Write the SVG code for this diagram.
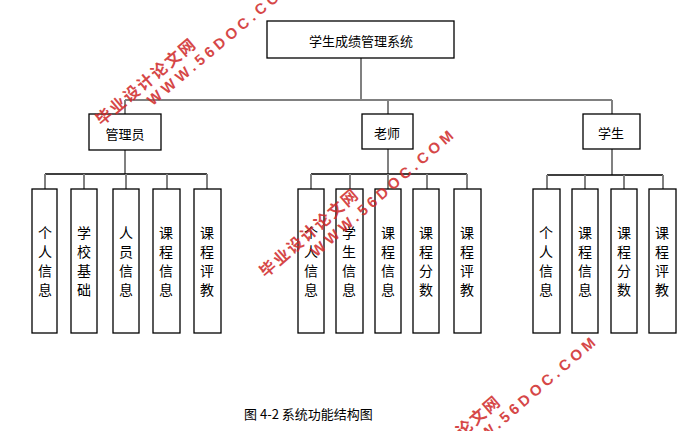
<svg xmlns="http://www.w3.org/2000/svg" width="699" height="431" viewBox="0 0 699 431">
<style>
.box{fill:#fff;stroke:#000;stroke-width:1.3}
.lbl{font-family:"Noto Sans CJK SC","Noto Sans",sans-serif;font-size:13px;fill:#000;text-anchor:middle;dominant-baseline:central}
.vl{font-family:"Noto Sans CJK SC","Noto Sans",sans-serif;font-size:14px;fill:#000;text-anchor:middle;dominant-baseline:central}
.gc{stroke:#808080;stroke-width:2;fill:none}
.bc{stroke:#000;stroke-width:1.5;fill:none}
.wm1{font-family:"Noto Sans CJK SC",sans-serif;font-size:16px;font-weight:bold;fill:#d02828;letter-spacing:2px;dominant-baseline:central}
.wm2{font-family:"Liberation Sans",Arial,sans-serif;font-size:15px;font-weight:bold;fill:#d02828;letter-spacing:4px;dominant-baseline:central}
</style>
<defs>
<g id="wm" opacity="0.85">
<text class="wm1" x="0" y="0">毕业设计论文网</text>
<text class="wm2" x="52" y="19">WWW.56DOC.COM</text>
</g>
</defs>
<rect width="699" height="431" fill="#fff"/>
<g id="connectors">
<path class="gc" d="M361,58 V100 M125,100 H612 M125,100 V114 M388,100 V114 M612,100 V114"/>
<path class="gc" d="M125,150 V174 M388,149 V174 M612,149 V175"/>
<path class="bc" d="M45,174 H207 M311,174 H467 M547,175 H663"/>
<path class="gc" d="M45,174 V189 M84,174 V189 M126,174 V189 M167,174 V189 M207,174 V189"/>
<path class="gc" d="M311,174 V189 M350,174 V189 M388,174 V189 M427,174 V189 M467,174 V189"/>
<path class="gc" d="M547,175 V189 M585,175 V189 M624,175 V189 M663,175 V189"/>
</g>
<g id="root"><rect class="box" x="267" y="21" width="187" height="37"/><text class="lbl" x="361" y="40">学生成绩管理系统</text></g>
<g id="admin"><rect class="box" x="89" y="114" width="72" height="36"/><text class="lbl" x="125" y="133">管理员</text></g>
<g id="teacher"><rect class="box" x="362" y="114" width="51" height="35"/><text class="lbl" x="387" y="132">老师</text></g>
<g id="student"><rect class="box" x="583" y="114" width="57" height="35"/><text class="lbl" x="611" y="132">学生</text></g>
<g id="a1"><rect class="box" x="32" y="189" width="25" height="144"/><text class="vl" x="45"><tspan x="45" y="232">个</tspan><tspan x="45" y="251">人</tspan><tspan x="45" y="270">信</tspan><tspan x="45" y="289">息</tspan></text></g>
<g id="a2"><rect class="box" x="71" y="189" width="26" height="144"/><text class="vl" x="84"><tspan x="84" y="232">学</tspan><tspan x="84" y="251">校</tspan><tspan x="84" y="270">基</tspan><tspan x="84" y="289">础</tspan></text></g>
<g id="a3"><rect class="box" x="113" y="189" width="26" height="144"/><text class="vl" x="126"><tspan x="126" y="232">人</tspan><tspan x="126" y="251">员</tspan><tspan x="126" y="270">信</tspan><tspan x="126" y="289">息</tspan></text></g>
<g id="a4"><rect class="box" x="153" y="189" width="27" height="144"/><text class="vl" x="166"><tspan x="166" y="232">课</tspan><tspan x="166" y="251">程</tspan><tspan x="166" y="270">信</tspan><tspan x="166" y="289">息</tspan></text></g>
<g id="a5"><rect class="box" x="194" y="189" width="27" height="144"/><text class="vl" x="207"><tspan x="207" y="232">课</tspan><tspan x="207" y="251">程</tspan><tspan x="207" y="270">评</tspan><tspan x="207" y="289">教</tspan></text></g>
<g id="t1"><rect class="box" x="298" y="189" width="26" height="144"/><text class="vl" x="311"><tspan x="311" y="232">个</tspan><tspan x="311" y="251">人</tspan><tspan x="311" y="270">信</tspan><tspan x="311" y="289">息</tspan></text></g>
<g id="t2"><rect class="box" x="336" y="189" width="27" height="144"/><text class="vl" x="349"><tspan x="349" y="232">学</tspan><tspan x="349" y="251">生</tspan><tspan x="349" y="270">信</tspan><tspan x="349" y="289">息</tspan></text></g>
<g id="t3"><rect class="box" x="375" y="189" width="26" height="144"/><text class="vl" x="388"><tspan x="388" y="232">课</tspan><tspan x="388" y="251">程</tspan><tspan x="388" y="270">信</tspan><tspan x="388" y="289">息</tspan></text></g>
<g id="t4"><rect class="box" x="413" y="189" width="26" height="144"/><text class="vl" x="426"><tspan x="426" y="232">课</tspan><tspan x="426" y="251">程</tspan><tspan x="426" y="270">分</tspan><tspan x="426" y="289">数</tspan></text></g>
<g id="t5"><rect class="box" x="454" y="189" width="27" height="144"/><text class="vl" x="467"><tspan x="467" y="232">课</tspan><tspan x="467" y="251">程</tspan><tspan x="467" y="270">评</tspan><tspan x="467" y="289">教</tspan></text></g>
<g id="s1"><rect class="box" x="533" y="189" width="27" height="144"/><text class="vl" x="546"><tspan x="546" y="232">个</tspan><tspan x="546" y="251">人</tspan><tspan x="546" y="270">信</tspan><tspan x="546" y="289">息</tspan></text></g>
<g id="s2"><rect class="box" x="572" y="189" width="26" height="144"/><text class="vl" x="585"><tspan x="585" y="232">课</tspan><tspan x="585" y="251">程</tspan><tspan x="585" y="270">信</tspan><tspan x="585" y="289">息</tspan></text></g>
<g id="s3"><rect class="box" x="611" y="189" width="26" height="144"/><text class="vl" x="624"><tspan x="624" y="232">课</tspan><tspan x="624" y="251">程</tspan><tspan x="624" y="270">分</tspan><tspan x="624" y="289">数</tspan></text></g>
<g id="s4"><rect class="box" x="649" y="189" width="27" height="144"/><text class="vl" x="662"><tspan x="662" y="232">课</tspan><tspan x="662" y="251">程</tspan><tspan x="662" y="270">评</tspan><tspan x="662" y="289">教</tspan></text></g>
<text id="caption" x="244" y="413" style="font-family:'Noto Sans CJK SC',sans-serif;font-size:13px;dominant-baseline:central">图 4-2 系统功能结构图</text>
<g id="watermarks">
<use href="#wm" transform="translate(97,121) rotate(-40)"/>
<use href="#wm" transform="translate(261,273) rotate(-41)"/>
<use href="#wm" transform="translate(403,480) rotate(-41)"/>
</g>
</svg>
